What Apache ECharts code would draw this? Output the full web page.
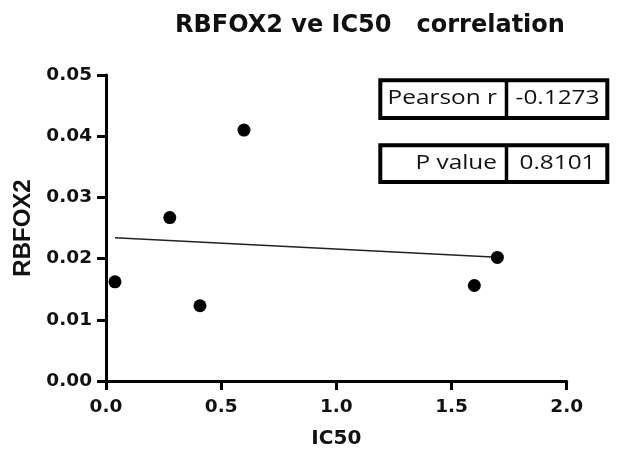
<!DOCTYPE html>
<html><head><meta charset="utf-8">
<script src="https://cdn.jsdelivr.net/npm/echarts@6/dist/echarts.min.js"></script>
<style>html,body{margin:0;padding:0;background:#fff}#c{width:619px;height:451px}</style>
</head><body><div id="c"></div>
<script>
const ic50 = [0.039, 0.277, 0.408, 0.599, 1.599, 1.699];
const rbfox2 = [0.0162, 0.0267, 0.0123, 0.0410, 0.0156, 0.0202];
const xTicks = [0.0, 0.5, 1.0, 1.5, 2.0];
const yTicks = [0.00, 0.01, 0.02, 0.03, 0.04, 0.05];
const statLabels = ['Pearson r', 'P value'];
const statValues = ['-0.1273', '0.8101'];

// least-squares fit from the data
const n = ic50.length;
const mx = ic50.reduce((a,b)=>a+b,0)/n, my = rbfox2.reduce((a,b)=>a+b,0)/n;
let sxy=0, sxx=0;
for (let i=0;i<n;i++){ sxy+=(ic50[i]-mx)*(rbfox2[i]-my); sxx+=(ic50[i]-mx)**2; }
const slope = sxy/sxx, icpt = my - slope*mx;
const x0 = Math.min(...ic50), x1 = Math.max(...ic50);
const fit = [[x0, icpt+slope*x0],[x1, icpt+slope*x1]];

const chart = echarts.init(document.getElementById('c'));
const axisFont = {fontFamily:'DejaVu Sans', fontWeight:'bold', fontSize:18.5, color:'#111'};
const boxes = [];
const boxTop = [80.3, 145.3];
const boxH = [37.7, 36.7];
for (let k=0;k<2;k++){
  boxes.push({type:'rect', z:10, shape:{x:380.3, y:boxTop[k], width:227, height:boxH[k]}, style:{fill:'#fff', stroke:'#000', lineWidth:4}});
  boxes.push({type:'line', z:11, shape:{x1:506.5, y1:boxTop[k], x2:506.5, y2:boxTop[k]+boxH[k]}, style:{stroke:'#000', lineWidth:3.5}});
  boxes.push({type:'text', z:12, x:497, y:boxTop[k]+boxH[k]/2-0.5, scaleX:1.25, style:{text:statLabels[k], fontFamily:'Open Sans', fontSize:19.5, fill:'#111', textAlign:'right', textVerticalAlign:'middle'}});
  boxes.push({type:'text', z:12, x:557.5, y:boxTop[k]+boxH[k]/2-0.5, scaleX:1.25, style:{text:statValues[k], fontFamily:'Open Sans', fontSize:19.5, fill:'#111', textAlign:'center', textVerticalAlign:'middle'}});
}
chart.setOption({
  animation:false,
  backgroundColor:'#fff',
  title:{text:'RBFOX2 ve IC50   correlation', left:170, top:9, textStyle:{fontFamily:'DejaVu Sans', fontWeight:'bold', fontSize:24, color:'#111'}},
  grid:{left:106, right:52.3, top:75, bottom:70, containLabel:false, outerBoundsMode:'none'},
  xAxis:{type:'value', min:0, max:2, interval:0.5,
    name:'IC50', nameLocation:'middle', nameGap:48,
    nameTextStyle:{fontFamily:'DejaVu Sans', fontWeight:'bold', fontSize:20, color:'#111'},
    axisLine:{show:true, onZero:false, lineStyle:{color:'#000', width:3}},
    axisTick:{show:true, length:9, lineStyle:{color:'#000', width:3}},
    axisLabel:Object.assign({margin:17, formatter:v=>xTicks.includes(v)?v.toFixed(1):''}, axisFont),
    splitLine:{show:false}},
  yAxis:{type:'value', min:0, max:0.05, interval:0.01,
    name:'RBFOX2', nameLocation:'middle', nameGap:68, nameRotate:90,
    nameTextStyle:{fontFamily:'Liberation Sans', fontWeight:'bold', fontSize:24, color:'#111'},
    axisLine:{show:true, onZero:false, lineStyle:{color:'#000', width:3}},
    axisTick:{show:true, length:9, lineStyle:{color:'#000', width:3}},
    axisLabel:Object.assign({margin:14, formatter:v=>v.toFixed(2)}, axisFont),
    splitLine:{show:false}},
  series:[
    {type:'line', data:fit, symbol:'none', lineStyle:{color:'#222', width:1.5}, z:2},
    {type:'scatter', data:ic50.map((x,i)=>[x, rbfox2[i]]), symbolSize:13, itemStyle:{color:'#000', opacity:1}, z:3}
  ],
  graphic:boxes
});
</script></body></html>
